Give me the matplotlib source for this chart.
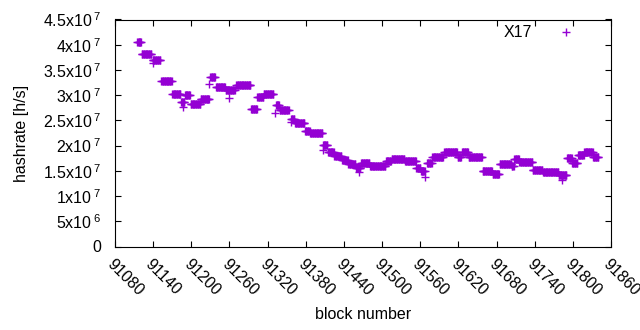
import numpy as np
import matplotlib
matplotlib.use("Agg")
import matplotlib.pyplot as plt
from matplotlib.ticker import FixedLocator

plt.rcParams['font.family'] = ['Liberation Sans', 'DejaVu Sans']
plt.rcParams['mathtext.fontset'] = 'custom'
plt.rcParams['mathtext.rm'] = 'Liberation Sans'
plt.rcParams['mathtext.it'] = 'Liberation Sans'

# step segments: first block, last block, hashrate (x1e7 h/s)
seg_start = [91115, 91122, 91139, 91153, 91170, 91184, 91190, 91199, 91215, 91230,
             91239, 91254, 91271, 91294, 91304, 91314, 91333, 91339, 91357, 91363,
             91379, 91387, 91407, 91415, 91425, 91437, 91447, 91459, 91467, 91481,
             91506, 91515, 91536, 91554, 91561, 91571, 91579, 91598, 91619, 91626,
             91636, 91658, 91674, 91685, 91704, 91708, 91716, 91737, 91753, 91778,
             91791, 91799, 91808, 91818, 91832]
seg_end = [91121, 91137, 91151, 91169, 91183, 91189, 91198, 91214, 91228, 91237,
           91253, 91268, 91293, 91303, 91313, 91329, 91338, 91353, 91362, 91378,
           91386, 91406, 91414, 91424, 91436, 91446, 91458, 91466, 91480, 91505,
           91514, 91535, 91553, 91560, 91567, 91578, 91596, 91618, 91624, 91635,
           91657, 91673, 91684, 91703, 91707, 91715, 91736, 91752, 91777, 91790,
           91798, 91807, 91817, 91831, 91840]
seg_value = [4.05, 3.81, 3.69, 3.28, 3.02, 2.86, 3.00, 2.83, 2.92, 3.36,
             3.16, 3.11, 3.20, 2.72, 2.96, 3.02, 2.80, 2.70, 2.52, 2.44,
             2.28, 2.25, 2.01, 1.88, 1.79, 1.71, 1.63, 1.56, 1.65, 1.60,
             1.69, 1.73, 1.69, 1.55, 1.50, 1.65, 1.77, 1.88, 1.77, 1.87,
             1.77, 1.49, 1.43, 1.63, 1.60, 1.73, 1.67, 1.51, 1.47, 1.42,
             1.75, 1.65, 1.81, 1.88, 1.77]

# isolated points
extra_blocks = [91140, 91187, 91228, 91259, 91331, 91356, 91407, 91463, 91568, 91783]
extra_values = [3.64, 2.77, 3.22, 2.95, 2.65, 2.47, 1.91, 1.48, 1.38, 1.32]

xticks = list(range(91080, 91861, 60))
yticks = [0, 5e6, 1e7, 1.5e7, 2e7, 2.5e7, 3e7, 3.5e7, 4e7, 4.5e7]
ytick_labels = ['0', r'5x10$^{\;6}$', r'1x10$^{\;7}$', r'1.5x10$^{\;7}$', r'2x10$^{\;7}$',
                r'2.5x10$^{\;7}$', r'3x10$^{\;7}$', r'3.5x10$^{\;7}$', r'4x10$^{\;7}$',
                r'4.5x10$^{\;7}$']

blocks = []
values = []
for s, e, v in zip(seg_start, seg_end, seg_value):
    for b in range(s, e + 1):
        blocks.append(b)
        values.append(v * 1e7)
blocks += extra_blocks
values += [v * 1e7 for v in extra_values]

FS = 11.5
fig = plt.figure(figsize=(6.4, 3.3), dpi=100)
ax = fig.add_axes([115 / 640, 1 - 246.5 / 330, (611 - 115) / 640, (246.5 - 19.5) / 330])
ax.plot(blocks, values, linestyle='none', marker='+', color='#9400D3',
        markersize=5.2, markeredgewidth=1.0, label='X17')

ax.set_xlim(91080, 91860)
ax.set_ylim(0, 4.5e7)
ax.xaxis.set_major_locator(FixedLocator(xticks))
ax.set_yticks(yticks)
ax.set_yticklabels(ytick_labels)
ax.set_xticklabels([str(t) for t in xticks], rotation=-45, rotation_mode='anchor',
                   ha='left', va='top')
ax.tick_params(direction='in', length=4, width=0.8, top=True, right=True,
               labelsize=FS, colors='black')
ax.tick_params(axis='y', pad=10)
ax.tick_params(axis='x', pad=7)
for sp in ax.spines.values():
    sp.set_linewidth(0.8)

ax.set_xlabel('block number', fontsize=FS, labelpad=6)
ax.set_ylabel('hashrate [h/s]', fontsize=FS, labelpad=10)

leg = ax.legend(loc='upper right', frameon=False, markerfirst=False, fontsize=FS,
                handlelength=1.0, handletextpad=1.6, borderaxespad=0.0, borderpad=0.0,
                bbox_to_anchor=(0.925, 0.975))

fig.savefig('out.png', dpi=100)
